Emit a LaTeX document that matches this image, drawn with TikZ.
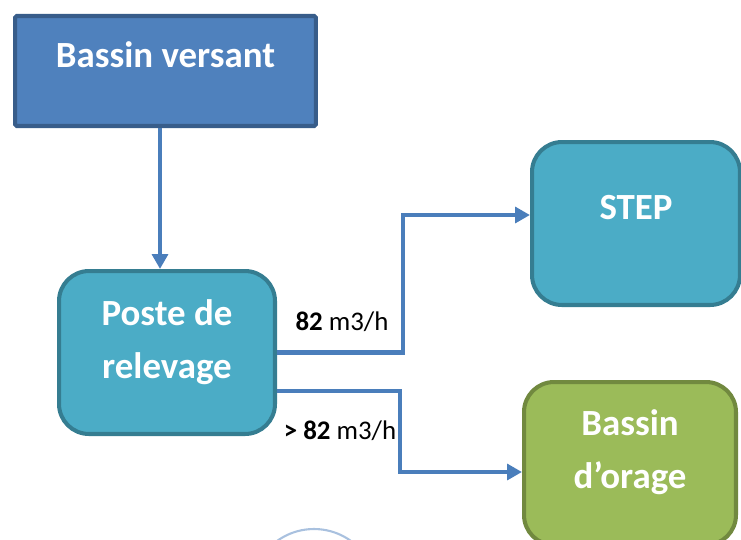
\documentclass[tikz,border=0pt]{standalone}
\usepackage{fontspec}
\setmainfont{Carlito}
\usepackage{tikz}
\usetikzlibrary{arrows.meta}

\definecolor{versantfill}{HTML}{4F81BD}
\definecolor{versantdraw}{HTML}{385D8A}
\definecolor{postefill}{HTML}{4BACC6}
\definecolor{postedraw}{HTML}{357D91}
\definecolor{oragefill}{HTML}{9BBB59}
\definecolor{oragedraw}{HTML}{71893F}
\definecolor{flux}{HTML}{4A7EBB}
\definecolor{cercle}{HTML}{A9C1DF}

\begin{document}
\begin{tikzpicture}[x=0.02cm, y=-0.02cm,
	box/.style={draw, line width=2.3pt, align=center, text=white, inner sep=0pt,
		font=\fontsize{21}{30}\selectfont\bfseries, minimum height=3.26cm, rounded corners=0.6cm},
	flow/.style={draw=flux, line width=2.3pt, -{Triangle[length=8.5pt, width=9pt]}},
	debit/.style={font=\fontsize{15.3}{18}\selectfont, inner sep=0pt, anchor=base}]
	\useasboundingbox (0,0) rectangle (741,539);
	\clip (0,0) rectangle (741,539);
	
	%Boxes
	\node[box, fill=versantfill, draw=versantdraw, minimum width=6.02cm, minimum height=2.2cm, rounded corners=1pt, text height=0.6cm, text depth=0.76cm] (versant) at (165.5,71) {Bassin versant};
	\node[box, fill=postefill, draw=postedraw, minimum width=4.32cm, text height=1.22cm, text depth=0.2cm] (poste) at (167,352.5) {Poste de\\relevage};
	\node[box, fill=postefill, draw=postedraw, minimum width=4.16cm, text height=0.6cm, text depth=0.78cm] (step) at (636,223.5) {STEP};
	\node[box, fill=oragefill, draw=oragedraw, minimum width=4.24cm, text height=1.18cm, text depth=0.2cm] (orage) at (630,463.5) {Bassin\\d’orage};
	\node[draw=cercle, circle, line width=1.2pt, minimum size=2.52cm] (rond) at (314,592) {};
	
	%Flows
	\draw[flow] ([xshift=-0.11cm]versant.south) -- ([xshift=-0.11cm]versant.south |- poste.north);
	\draw[flow] (poste.east) -- ++(126,0) |- ([yshift=0.17cm]step.west);
	\draw[flow] ([yshift=-0.77cm]poste.east) -- ++(123,0) |- ([yshift=-0.17cm]orage.west);
	
	%Labels
	\node[debit] (normal) at (342,330) {\textbf{82} m3/h};
	\node[debit] (surverse) at (340,439) {\textbf{> 82} m3/h};
\end{tikzpicture}
\end{document}
